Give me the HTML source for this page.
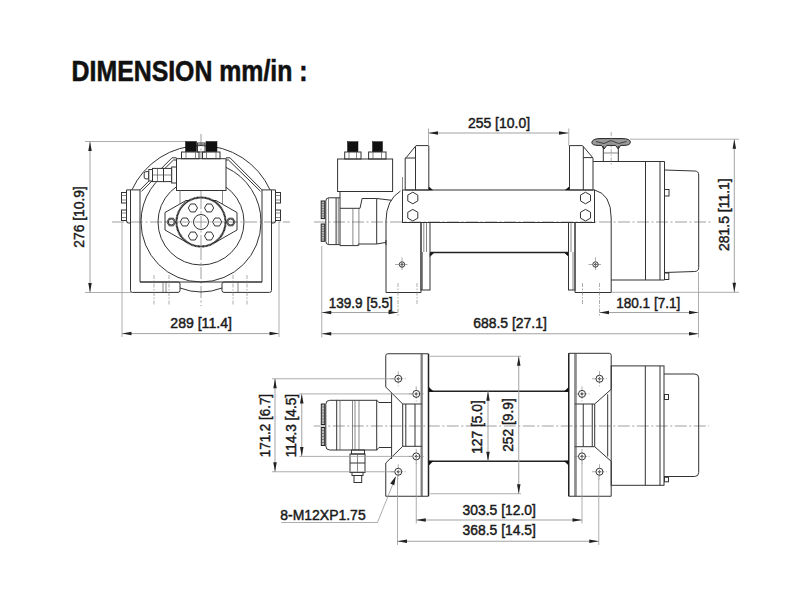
<!DOCTYPE html>
<html><head><meta charset="utf-8"><title>Dimension drawing</title><style>
*{margin:0;padding:0}
html,body{width:800px;height:600px;background:#fff;overflow:hidden}
svg{display:block}
.o{fill:none;stroke:#333;stroke-width:1}
.thk{fill:none;stroke:#222;stroke-width:1.5}
.t{fill:none;stroke:#555;stroke-width:0.7}
.mf{fill:none;stroke:#222;stroke-width:2.2;stroke-dasharray:0.9 0.45}
.mfw{fill:#fff;stroke:#555;stroke-width:1}
.ser{fill:#bbb;stroke:#222;stroke-width:1}
.ow{fill:#fff;stroke:#333;stroke-width:1}
.blk{fill:#111;stroke:#111;stroke-width:0.5}
.kn{fill:#9a9a9a;stroke:#222;stroke-width:1}
.knl{fill:none;stroke:#333;stroke-width:0.9}
.c{fill:none;stroke:#777;stroke-width:0.7;stroke-dasharray:12 2.5 2 2.5}
.c2{fill:none;stroke:#777;stroke-width:0.6;stroke-dasharray:4 1.5 1.5 1.5}
.d{fill:none;stroke:#999;stroke-width:0.9}
.e{fill:none;stroke:#999;stroke-width:0.8}
.ar{fill:#222;stroke:none}
text.t{font-family:"Liberation Sans",sans-serif;fill:#1a1a1a;stroke:#1a1a1a;stroke-width:0.45}
text.ttl{font-family:"Liberation Sans",sans-serif;font-weight:bold;font-size:30.4px;fill:#111;stroke:#111;stroke-width:0.6}
</style></head>
<body><svg width="800" height="600" viewBox="0 0 800 600">
<rect width="800" height="600" fill="#fff"/>
<line x1="112" y1="222" x2="290" y2="222" class="c"/>
<line x1="201" y1="134" x2="201" y2="306" class="c"/>
<path d="M131.9,189.9 A76,76 0 0 1 270.1,189.9" class="o" />
<path d="M141,222 A60,60 0 1 0 261,222" class="o" />
<path d="M141,222 A60,60 0 0 1 176.5,167.2" class="o" />
<path d="M261,222 A60,60 0 0 0 226,167.4" class="o" />
<circle cx="201" cy="222" r="43" class="o"/>
<path d="M130.5,189.9 L130.5,290.4 Q130.5,292.4 132.5,292.4 L178,292.4 Q180,292.4 180,290.4 L180,284 Q180,282 178,282 L140,282 L140,189.9" class="o" />
<path d="M271.5,189.9 L271.5,290.4 Q271.5,292.4 269.5,292.4 L224,292.4 Q222,292.4 222,290.4 L222,284 Q222,282 224,282 L262,282 L262,189.9" class="o" />
<line x1="140" y1="282" x2="262" y2="282" class="o"/>
<path d="M180,288 Q201,296 222,288" class="o" />
<path d="M140,189.9 L126.5,189.9 L126.5,221 Q126.5,223 128.5,223 L130.5,223" class="o" />
<path d="M262,189.9 L275.5,189.9 L275.5,221 Q275.5,223 273.5,223 L271.5,223" class="o" />
<rect x="121.5" y="192.5" width="5" height="10.5" class="o"/>
<line x1="121.5" y1="195.5" x2="126.5" y2="195.5" class="t"/>
<line x1="121.5" y1="200.0" x2="126.5" y2="200.0" class="t"/>
<rect x="121.5" y="210" width="5" height="10.5" class="o"/>
<line x1="121.5" y1="213" x2="126.5" y2="213" class="t"/>
<line x1="121.5" y1="217.5" x2="126.5" y2="217.5" class="t"/>
<rect x="275.5" y="192.5" width="5" height="10.5" class="o"/>
<line x1="275.5" y1="195.5" x2="280.5" y2="195.5" class="t"/>
<line x1="275.5" y1="200.0" x2="280.5" y2="200.0" class="t"/>
<rect x="275.5" y="210" width="5" height="10.5" class="o"/>
<line x1="275.5" y1="213" x2="280.5" y2="213" class="t"/>
<line x1="275.5" y1="217.5" x2="280.5" y2="217.5" class="t"/>
<polyline points="140,189.9 172,157.8 176.5,157.8" class="o"/>
<polyline points="141.5,191.3 173.5,160 176.5,160" class="o"/>
<polyline points="262,189.9 230,157.8 226,157.8" class="o"/>
<polyline points="260.5,191.3 228.5,160 226,160" class="o"/>
<line x1="163" y1="282" x2="163" y2="292.4" class="t"/>
<line x1="166" y1="282" x2="166" y2="292.4" class="t"/>
<line x1="238" y1="282" x2="238" y2="292.4" class="t"/>
<line x1="154" y1="275" x2="154" y2="306" class="c2"/>
<line x1="169" y1="275" x2="169" y2="306" class="c2"/>
<line x1="233" y1="275" x2="233" y2="306" class="c2"/>
<line x1="247" y1="275" x2="247" y2="306" class="c2"/>
<rect x="176.5" y="158.7" width="49.5" height="31.8" class="ow"/>
<line x1="180" y1="190.5" x2="180" y2="204" class="t"/>
<line x1="222.5" y1="190.5" x2="222.5" y2="204" class="t"/>
<rect x="181.5" y="152" width="17.5" height="6.7" class="o"/>
<rect x="202.5" y="152" width="17.5" height="6.7" class="o"/>
<rect x="185.5" y="141.5" width="11" height="10" class="blk"/>
<rect x="206" y="141.5" width="11" height="10" class="blk"/>
<rect x="197.5" y="143" width="7.5" height="9" class="o"/>
<line x1="197.5" y1="144.5" x2="205" y2="144.5" class="t"/>
<line x1="186" y1="152" x2="186" y2="158.7" class="t"/>
<line x1="195.5" y1="152" x2="195.5" y2="158.7" class="t"/>
<line x1="206.5" y1="152" x2="206.5" y2="158.7" class="t"/>
<line x1="216" y1="152" x2="216" y2="158.7" class="t"/>
<path d="M148.8,171.6 L146,171.6 Q144.2,171.6 144.2,173.4 L144.2,177.1 Q144.2,178.9 146,178.9 L148.8,178.9 Z" class="ow" />
<rect x="148.8" y="169.5" width="3.7" height="11.5" class="ow"/>
<rect x="152.5" y="168.4" width="11" height="13.2" class="ow"/>
<line x1="152.5" y1="175" x2="163.5" y2="175" class="t"/>
<line x1="157.5" y1="168.4" x2="157.5" y2="181.6" class="t"/>
<rect x="163.5" y="168.4" width="8.2" height="13.2" class="ow"/>
<line x1="163.5" y1="175" x2="171.7" y2="175" class="t"/>
<rect x="171.7" y="167" width="4.8" height="16" class="ow"/>
<polygon points="165,212.5 186,200.5 216,200.5 237,212.5 237,230 216,242 186,242 165,230" class="o"/>
<circle cx="201" cy="222" r="24.5" class="mfw"/>
<circle cx="201" cy="222" r="24.5" class="mf"/>
<circle cx="201" cy="222" r="7.5" class="o"/>
<polygon points="221.8,222.0 219.5,225.98 214.9,225.98 212.6,222.0 214.9,218.02 219.5,218.02" class="o"/>
<polygon points="213.7,236.03 211.4,240.01 206.8,240.01 204.5,236.03 206.8,232.05 211.4,232.05" class="o"/>
<polygon points="197.5,236.03 195.2,240.01 190.6,240.01 188.3,236.03 190.6,232.05 195.2,232.05" class="o"/>
<polygon points="189.4,222.0 187.1,225.98 182.5,225.98 180.2,222.0 182.5,218.02 187.1,218.02" class="o"/>
<polygon points="197.5,207.97 195.2,211.95 190.6,211.95 188.3,207.97 190.6,203.99 195.2,203.99" class="o"/>
<polygon points="213.7,207.97 211.4,211.95 206.8,211.95 204.5,207.97 206.8,203.99 211.4,203.99" class="o"/>
<polygon points="175.7,222.0 173.5,225.81 169.1,225.81 166.9,222.0 169.1,218.19 173.5,218.19" class="o"/>
<circle cx="171.3" cy="222" r="3.0" class="o"/>
<polygon points="235.1,222.0 232.9,225.81 228.5,225.81 226.3,222.0 228.5,218.19 232.9,218.19" class="o"/>
<circle cx="230.7" cy="222" r="3.0" class="o"/>
<line x1="176" y1="222" x2="226" y2="222" class="c"/>
<line x1="201" y1="197" x2="201" y2="247" class="c"/>
<line x1="90" y1="141.5" x2="90" y2="292.5" class="d"/>
<polygon points="90,141.5 88.25,151.0 91.75,151.0" class="ar"/>
<polygon points="90,292.5 88.25,283.0 91.75,283.0" class="ar"/>
<line x1="85" y1="141.5" x2="185" y2="141.5" class="e"/>
<line x1="85" y1="292.5" x2="131" y2="292.5" class="e"/>
<text x="0" y="0" transform="translate(84.3,216.9) rotate(-90)" text-anchor="middle" class="t" style="font-size:14px" textLength="61.6" lengthAdjust="spacingAndGlyphs">276 [10.9]</text>
<line x1="122" y1="333.6" x2="279" y2="333.6" class="d"/>
<polygon points="122,333.6 131.5,331.85 131.5,335.35" class="ar"/>
<polygon points="279,333.6 269.5,331.85 269.5,335.35" class="ar"/>
<line x1="122" y1="222" x2="122" y2="337" class="e"/>
<line x1="279" y1="222" x2="279" y2="337" class="e"/>
<text x="201.1" y="328" text-anchor="middle" class="t" style="font-size:14px" textLength="61.6" lengthAdjust="spacingAndGlyphs">289 [11.4]</text>
<line x1="314" y1="222" x2="712" y2="222" class="c"/>
<rect x="337.6" y="159" width="55" height="32.5" class="o"/>
<rect x="344.7" y="152" width="16.3" height="7" class="o"/>
<rect x="368.6" y="152" width="17.4" height="7" class="o"/>
<line x1="349" y1="152" x2="349" y2="159" class="t"/>
<line x1="356.5" y1="152" x2="356.5" y2="159" class="t"/>
<line x1="373" y1="152" x2="373" y2="159" class="t"/>
<line x1="381.5" y1="152" x2="381.5" y2="159" class="t"/>
<rect x="347.5" y="141.7" width="10.5" height="10" class="blk"/>
<rect x="372.5" y="141.7" width="10" height="10" class="blk"/>
<path d="M340,197.8 L329,197.8 Q325.8,197.8 325.8,201 L325.8,241.4 Q325.8,244.6 329,244.6 L340,244.6" class="o" />
<rect x="321.2" y="201" width="3.5" height="17.6" class="ser"/>
<rect x="321.2" y="224" width="3.5" height="17.3" class="ser"/>
<line x1="321.2" y1="203.5" x2="324.7" y2="203.5" class="t"/>
<line x1="321.2" y1="206" x2="324.7" y2="206" class="t"/>
<line x1="321.2" y1="208.5" x2="324.7" y2="208.5" class="t"/>
<line x1="321.2" y1="211" x2="324.7" y2="211" class="t"/>
<line x1="321.2" y1="213.5" x2="324.7" y2="213.5" class="t"/>
<line x1="321.2" y1="216" x2="324.7" y2="216" class="t"/>
<line x1="321.2" y1="226.5" x2="324.7" y2="226.5" class="t"/>
<line x1="321.2" y1="229" x2="324.7" y2="229" class="t"/>
<line x1="321.2" y1="231.5" x2="324.7" y2="231.5" class="t"/>
<line x1="321.2" y1="234" x2="324.7" y2="234" class="t"/>
<line x1="321.2" y1="236.5" x2="324.7" y2="236.5" class="t"/>
<line x1="321.2" y1="239" x2="324.7" y2="239" class="t"/>
<line x1="328.5" y1="197.8" x2="328.5" y2="244.6" class="t"/>
<line x1="336.1" y1="197.8" x2="336.1" y2="244.6" class="o"/>
<line x1="338.3" y1="197.8" x2="338.3" y2="244.6" class="t"/>
<path d="M340,191.5 L340,245.6 L358.3,245.6 L358.3,244 L376.7,244 L386,242.4" class="o" />
<path d="M340,208.3 L360,208.3 L362.1,198.5 L376.7,198.5 L391.8,200.3" class="o" />
<path d="M400.5,191 Q386,200 386,221 L386,245" class="o" />
<line x1="352.9" y1="208.3" x2="352.9" y2="245.6" class="t"/>
<line x1="358.9" y1="208.3" x2="358.9" y2="245.6" class="t"/>
<line x1="376.7" y1="198.5" x2="376.7" y2="244" class="o"/>
<polygon points="416,145.6 428.8,145.6 428.8,190 405.2,190 405.2,158 406.2,157.6" class="o"/>
<line x1="415.5" y1="146.5" x2="415.5" y2="190" class="o"/>
<line x1="406" y1="158" x2="415.5" y2="158" class="o"/>
<line x1="402.5" y1="177" x2="402.5" y2="190" class="t"/>
<polygon points="569.5,145.6 582.5,145.6 593,158 593,190 569.5,190" class="o"/>
<line x1="583.3" y1="146.5" x2="583.3" y2="190" class="o"/>
<line x1="583.3" y1="157.6" x2="592.5" y2="157.6" class="o"/>
<rect x="402.5" y="190" width="192" height="32.5" class="o"/>
<polygon points="417.82,200.9 412.8,203.8 407.78,200.9 407.78,195.1 412.8,192.2 417.82,195.1" class="o"/>
<polygon points="417.82,218.1 412.8,221.0 407.78,218.1 407.78,212.3 412.8,209.4 417.82,212.3" class="o"/>
<polygon points="590.52,200.9 585.5,203.8 580.48,200.9 580.48,195.1 585.5,192.2 590.52,195.1" class="o"/>
<polygon points="590.52,218.1 585.5,221.0 580.48,218.1 580.48,212.3 585.5,209.4 590.52,212.3" class="o"/>
<polygon points="429,187 429,190 432.5,190" class="blk"/>
<polygon points="569,187 569,190 565.5,190" class="blk"/>
<polygon points="430,253 430,256.5 433.5,253" class="blk"/>
<polygon points="568.5,253 568.5,256.5 565,253" class="blk"/>
<line x1="430" y1="252.5" x2="568.5" y2="252.5" class="thk"/>
<rect x="421" y="222.5" width="9" height="67.5" class="o"/>
<line x1="423.8" y1="222.5" x2="423.8" y2="252" class="t"/>
<line x1="426.5" y1="222.5" x2="426.5" y2="252" class="t"/>
<rect x="568.5" y="222.5" width="6.5" height="67.5" class="o"/>
<line x1="571" y1="222.5" x2="571" y2="252" class="t"/>
<line x1="422.5" y1="252" x2="422.5" y2="290" class="t"/>
<line x1="573" y1="252" x2="573" y2="290" class="t"/>
<path d="M402.5,222.5 L421,222.5 L421,292.5 L386,292.5 L386,240" class="o" />
<path d="M594.2,222.5 L575,222.5 L575,292.5 L611.2,292.5" class="o" />
<line x1="395" y1="264.5" x2="409" y2="264.5" class="c2"/>
<line x1="402" y1="257.5" x2="402" y2="271.5" class="c2"/>
<circle cx="402" cy="264.5" r="2.7" class="o"/>
<circle cx="402" cy="264.5" r="0.8" class="o"/>
<line x1="588.5" y1="264.5" x2="602.5" y2="264.5" class="c2"/>
<line x1="595.5" y1="257.5" x2="595.5" y2="271.5" class="c2"/>
<circle cx="595.5" cy="264.5" r="2.7" class="o"/>
<circle cx="595.5" cy="264.5" r="0.8" class="o"/>
<line x1="398" y1="283" x2="398" y2="316" class="c2"/>
<line x1="599.5" y1="283" x2="599.5" y2="316" class="c2"/>
<line x1="417" y1="283" x2="417" y2="305" class="c2"/>
<line x1="582.5" y1="283" x2="582.5" y2="305" class="c2"/>
<path d="M593,161.5 L664.5,161.5 L664.5,280 L611.2,280" class="o" />
<path d="M594.5,190 Q611.2,194 611.2,218 L611.2,292.5" class="o" />
<line x1="645.5" y1="161.5" x2="645.5" y2="280" class="o"/>
<line x1="660" y1="161.5" x2="660" y2="280" class="o"/>
<path d="M591.8,142.5 Q592.5,138.6 600,138.6 L622,138.6 Q630.3,138.6 630.4,142.2 Q630.3,145.3 624,145.4 L620.5,145.4 L618.3,149 L615.5,145.4 L606.8,145.4 L604,149 L601.6,145.4 L598,145.4 Q591.9,145.3 591.8,142.5 Z" class="kn" />
<path d="M596,141.5 L604,143.5 L611,140.5 L618.5,143.5 L626.5,141.5" class="knl" />
<line x1="603.3" y1="146" x2="603.3" y2="161.5" class="o"/>
<line x1="618.3" y1="146" x2="618.3" y2="161.5" class="o"/>
<line x1="603.3" y1="153" x2="618.3" y2="153" class="t"/>
<line x1="611.2" y1="132" x2="611.2" y2="166" class="c2"/>
<path d="M664.5,170 L694.5,171 Q698.7,171 698.7,175 L698.7,267.5 Q698.7,271.5 694.5,271.5 L664.5,272.5" class="o" />
<rect x="664.5" y="189.5" width="4.5" height="6.5" class="o"/>
<rect x="664.5" y="273" width="4.3" height="6.5" class="o"/>
<line x1="428.5" y1="133" x2="568.5" y2="133" class="d"/>
<polygon points="428.5,133 438.0,131.25 438.0,134.75" class="ar"/>
<polygon points="568.5,133 559.0,131.25 559.0,134.75" class="ar"/>
<line x1="428.5" y1="128.5" x2="428.5" y2="146" class="e"/>
<line x1="568.75" y1="128.5" x2="568.75" y2="146" class="e"/>
<text x="499" y="127.5" text-anchor="middle" class="t" style="font-size:14px" textLength="62.1" lengthAdjust="spacingAndGlyphs">255 [10.0]</text>
<line x1="734.3" y1="139.2" x2="734.3" y2="292.3" class="d"/>
<polygon points="734.3,139.2 732.55,148.7 736.05,148.7" class="ar"/>
<polygon points="734.3,292.3 732.55,282.8 736.05,282.8" class="ar"/>
<line x1="630" y1="139.2" x2="739" y2="139.2" class="e"/>
<line x1="611" y1="292.3" x2="739" y2="292.3" class="e"/>
<text x="0" y="0" transform="translate(729,214.6) rotate(-90)" text-anchor="middle" class="t" style="font-size:14px" textLength="72.6" lengthAdjust="spacingAndGlyphs">281.5 [11.1]</text>
<line x1="321.75" y1="312.5" x2="398" y2="312.5" class="d"/>
<polygon points="321.75,312.5 331.25,310.75 331.25,314.25" class="ar"/>
<polygon points="398,312.5 388.5,310.75 388.5,314.25" class="ar"/>
<text x="360.75" y="307.5" text-anchor="middle" class="t" style="font-size:14px" textLength="64.1" lengthAdjust="spacingAndGlyphs">139.9 [5.5]</text>
<line x1="599.5" y1="312.5" x2="698.5" y2="312.5" class="d"/>
<polygon points="599.5,312.5 609.0,310.75 609.0,314.25" class="ar"/>
<polygon points="698.5,312.5 689.0,310.75 689.0,314.25" class="ar"/>
<text x="648.25" y="307.5" text-anchor="middle" class="t" style="font-size:14px" textLength="64.1" lengthAdjust="spacingAndGlyphs">180.1 [7.1]</text>
<line x1="321.75" y1="333.75" x2="698.5" y2="333.75" class="d"/>
<polygon points="321.75,333.75 331.25,332.0 331.25,335.5" class="ar"/>
<polygon points="698.5,333.75 689.0,332.0 689.0,335.5" class="ar"/>
<line x1="321.75" y1="246" x2="321.75" y2="337.5" class="e"/>
<line x1="698.5" y1="272" x2="698.5" y2="337.5" class="e"/>
<text x="510" y="328.1" text-anchor="middle" class="t" style="font-size:14px" textLength="73.6" lengthAdjust="spacingAndGlyphs">688.5 [27.1]</text>
<line x1="313.75" y1="426" x2="709" y2="426" class="c"/>
<path d="M428.3,353.75 L387.75,353.75 Q385.75,353.75 385.75,355.75 L385.75,387 L402.7,404 L402.7,446.3 L385.75,463 L385.75,496.25 L428.3,496.25" class="o" />
<line x1="422" y1="353.75" x2="422" y2="496.25" class="o"/>
<line x1="402.7" y1="404" x2="422" y2="404" class="o"/>
<line x1="402.7" y1="446.3" x2="422" y2="446.3" class="o"/>
<line x1="405.8" y1="404" x2="405.8" y2="446.3" class="o"/>
<line x1="415" y1="404" x2="415" y2="446.3" class="o"/>
<line x1="421" y1="353.75" x2="421" y2="496.25" class="t"/>
<line x1="391.6" y1="392.8" x2="391.6" y2="459" class="o"/>
<path d="M568.75,353.3 L609.2,353.3 Q611.2,353.3 611.2,355.3 L611.2,389.3 L594.7,404 L594.7,446.7 L611.2,461.3 L611.2,496.25 L568.75,496.25" class="o" />
<line x1="575" y1="353.3" x2="575" y2="496.25" class="o"/>
<line x1="575" y1="404" x2="594.7" y2="404" class="o"/>
<line x1="575" y1="446.7" x2="594.7" y2="446.7" class="o"/>
<line x1="583.25" y1="404" x2="583.25" y2="446.7" class="o"/>
<line x1="592.25" y1="404" x2="592.25" y2="446.7" class="o"/>
<line x1="607.7" y1="394.3" x2="607.7" y2="456.5" class="o"/>
<line x1="576.3" y1="353.3" x2="576.3" y2="496.25" class="t"/>
<line x1="428.5" y1="353.75" x2="428.5" y2="496.25" class="thk"/>
<line x1="568.75" y1="353.3" x2="568.75" y2="496.25" class="thk"/>
<line x1="428.75" y1="391.25" x2="568.75" y2="391.25" class="thk"/>
<line x1="428.75" y1="461.25" x2="568.75" y2="461.25" class="thk"/>
<polygon points="429,387.5 429,391.3 433,391.3" class="blk"/>
<polygon points="568.5,387.5 568.5,391.3 564.5,391.3" class="blk"/>
<polygon points="429,461.2 429,465 433,461.2" class="blk"/>
<polygon points="568.5,461.2 568.5,465 564.5,461.2" class="blk"/>
<line x1="390.75" y1="378.75" x2="405.75" y2="378.75" class="c2"/>
<line x1="398.25" y1="371.25" x2="398.25" y2="386.25" class="c2"/>
<circle cx="398.25" cy="378.75" r="3.5" class="o"/>
<circle cx="398.25" cy="378.75" r="0.8" class="o"/>
<line x1="408.75" y1="393.9" x2="423.75" y2="393.9" class="c2"/>
<line x1="416.25" y1="386.4" x2="416.25" y2="401.4" class="c2"/>
<circle cx="416.25" cy="393.9" r="3.5" class="o"/>
<circle cx="416.25" cy="393.9" r="0.8" class="o"/>
<line x1="408.75" y1="456.4" x2="423.75" y2="456.4" class="c2"/>
<line x1="416.25" y1="448.9" x2="416.25" y2="463.9" class="c2"/>
<circle cx="416.25" cy="456.4" r="3.5" class="o"/>
<circle cx="416.25" cy="456.4" r="0.8" class="o"/>
<line x1="390.75" y1="471.75" x2="405.75" y2="471.75" class="c2"/>
<line x1="398.25" y1="464.25" x2="398.25" y2="479.25" class="c2"/>
<circle cx="398.25" cy="471.75" r="3.5" class="o"/>
<circle cx="398.25" cy="471.75" r="0.8" class="o"/>
<line x1="592.0" y1="378.75" x2="607.0" y2="378.75" class="c2"/>
<line x1="599.5" y1="371.25" x2="599.5" y2="386.25" class="c2"/>
<circle cx="599.5" cy="378.75" r="3.5" class="o"/>
<circle cx="599.5" cy="378.75" r="0.8" class="o"/>
<line x1="574.5" y1="393.9" x2="589.5" y2="393.9" class="c2"/>
<line x1="582" y1="386.4" x2="582" y2="401.4" class="c2"/>
<circle cx="582" cy="393.9" r="3.5" class="o"/>
<circle cx="582" cy="393.9" r="0.8" class="o"/>
<line x1="574.5" y1="456.4" x2="589.5" y2="456.4" class="c2"/>
<line x1="582" y1="448.9" x2="582" y2="463.9" class="c2"/>
<circle cx="582" cy="456.4" r="3.5" class="o"/>
<circle cx="582" cy="456.4" r="0.8" class="o"/>
<line x1="592.0" y1="471.75" x2="607.0" y2="471.75" class="c2"/>
<line x1="599.5" y1="464.25" x2="599.5" y2="479.25" class="c2"/>
<circle cx="599.5" cy="471.75" r="3.5" class="o"/>
<circle cx="599.5" cy="471.75" r="0.8" class="o"/>
<path d="M336.7,400.3 L329.8,400.3 Q325.8,400.3 325.8,404.3 L325.8,446 Q325.8,450 329.8,450 L336.7,450" class="o" />
<rect x="336.7" y="400.3" width="40" height="49.7" class="o"/>
<path d="M376.7,400.3 L379,402.5 L391.6,402.5 M376.7,450 L379,447.5 L391.6,447.5" class="o" />
<rect x="321.3" y="404" width="3.4" height="20.5" class="ser"/>
<rect x="321.3" y="427.5" width="3.4" height="18" class="ser"/>
<line x1="321.3" y1="407" x2="324.7" y2="407" class="t"/>
<line x1="321.3" y1="410" x2="324.7" y2="410" class="t"/>
<line x1="321.3" y1="413" x2="324.7" y2="413" class="t"/>
<line x1="321.3" y1="416" x2="324.7" y2="416" class="t"/>
<line x1="321.3" y1="419" x2="324.7" y2="419" class="t"/>
<line x1="321.3" y1="422" x2="324.7" y2="422" class="t"/>
<line x1="321.3" y1="430.5" x2="324.7" y2="430.5" class="t"/>
<line x1="321.3" y1="433.5" x2="324.7" y2="433.5" class="t"/>
<line x1="321.3" y1="436.5" x2="324.7" y2="436.5" class="t"/>
<line x1="321.3" y1="439.5" x2="324.7" y2="439.5" class="t"/>
<line x1="321.3" y1="442.5" x2="324.7" y2="442.5" class="t"/>
<line x1="340" y1="400.3" x2="340" y2="450" class="t"/>
<line x1="352.5" y1="400.3" x2="352.5" y2="450" class="t"/>
<line x1="355" y1="400.3" x2="355" y2="450" class="t"/>
<line x1="359" y1="400.3" x2="359" y2="450" class="t"/>
<rect x="351.5" y="450" width="13" height="4" class="o"/>
<rect x="350" y="454" width="15" height="18.5" class="o"/>
<line x1="350" y1="463" x2="365" y2="463" class="o"/>
<line x1="357.5" y1="454" x2="357.5" y2="472.5" class="t"/>
<rect x="352" y="472.5" width="11" height="3" class="o"/>
<rect x="354" y="475.5" width="7.7" height="7" class="o"/>
<rect x="611.2" y="365.9" width="52.8" height="119.4" class="o"/>
<line x1="645.3" y1="365.9" x2="645.3" y2="485.3" class="o"/>
<line x1="660" y1="365.9" x2="660" y2="485.3" class="o"/>
<path d="M664,374 L694.7,374 Q698.7,374 698.7,378 L698.7,472.5 Q698.7,476.5 694.7,476.5 L664,476.5" class="o" />
<rect x="664.5" y="394.5" width="4" height="5" class="o"/>
<rect x="664.5" y="477.3" width="4" height="4.5" class="o"/>
<line x1="430" y1="356.25" x2="521" y2="356.25" class="e"/>
<line x1="430" y1="493.75" x2="521" y2="493.75" class="e"/>
<line x1="518.75" y1="356.25" x2="518.75" y2="493.75" class="d"/>
<polygon points="518.75,356.25 517.0,365.75 520.5,365.75" class="ar"/>
<polygon points="518.75,493.75 517.0,484.25 520.5,484.25" class="ar"/>
<line x1="488" y1="391.25" x2="488" y2="461.25" class="d"/>
<polygon points="488,391.25 486.25,400.75 489.75,400.75" class="ar"/>
<polygon points="488,461.25 486.25,451.75 489.75,451.75" class="ar"/>
<text x="0" y="0" transform="translate(482.4,427) rotate(-90)" text-anchor="middle" class="t" style="font-size:14px" textLength="53.6" lengthAdjust="spacingAndGlyphs">127 [5.0]</text>
<text x="0" y="0" transform="translate(513.2,425) rotate(-90)" text-anchor="middle" class="t" style="font-size:14px" textLength="53.6" lengthAdjust="spacingAndGlyphs">252 [9.9]</text>
<line x1="272" y1="378.75" x2="395" y2="378.75" class="e"/>
<line x1="272" y1="471.75" x2="395" y2="471.75" class="e"/>
<line x1="299" y1="393.9" x2="413" y2="393.9" class="e"/>
<line x1="299" y1="456.4" x2="413" y2="456.4" class="e"/>
<line x1="275" y1="378.75" x2="275" y2="471.75" class="d"/>
<polygon points="275,378.75 273.25,388.25 276.75,388.25" class="ar"/>
<polygon points="275,471.75 273.25,462.25 276.75,462.25" class="ar"/>
<line x1="301.75" y1="393.9" x2="301.75" y2="456.4" class="d"/>
<polygon points="301.75,393.9 300.0,403.4 303.5,403.4" class="ar"/>
<polygon points="301.75,456.4 300.0,446.9 303.5,446.9" class="ar"/>
<text x="0" y="0" transform="translate(270.4,425.6) rotate(-90)" text-anchor="middle" class="t" style="font-size:14px" textLength="63.3" lengthAdjust="spacingAndGlyphs">171.2 [6.7]</text>
<text x="0" y="0" transform="translate(295.7,425.6) rotate(-90)" text-anchor="middle" class="t" style="font-size:14px" textLength="63.3" lengthAdjust="spacingAndGlyphs">114.3 [4.5]</text>
<line x1="416.25" y1="520" x2="582" y2="520" class="d"/>
<polygon points="416.25,520 425.75,518.25 425.75,521.75" class="ar"/>
<polygon points="582,520 572.5,518.25 572.5,521.75" class="ar"/>
<line x1="416.25" y1="458" x2="416.25" y2="523.5" class="e"/>
<line x1="582" y1="458" x2="582" y2="523.5" class="e"/>
<text x="499.25" y="514.9" text-anchor="middle" class="t" style="font-size:14px" textLength="73.3" lengthAdjust="spacingAndGlyphs">303.5 [12.0]</text>
<line x1="397.5" y1="541.25" x2="598.75" y2="541.25" class="d"/>
<polygon points="397.5,541.25 407.0,539.5 407.0,543.0" class="ar"/>
<polygon points="598.75,541.25 589.25,539.5 589.25,543.0" class="ar"/>
<line x1="397.5" y1="475" x2="397.5" y2="545" class="e"/>
<line x1="598.75" y1="475" x2="598.75" y2="545" class="e"/>
<text x="499.25" y="535.4" text-anchor="middle" class="t" style="font-size:14px" textLength="73.3" lengthAdjust="spacingAndGlyphs">368.5 [14.5]</text>
<polyline points="281.25,522.5 377.5,522.5 395.5,477.5" class="e"/>
<polygon points="395.8,476.2 390.2,483.6 394.3,485.3" class="ar"/>
<text x="280.3" y="520.4" text-anchor="start" class="t" style="font-size:14px" textLength="85.35" lengthAdjust="spacingAndGlyphs">8-M12XP1.75</text>
<text x="71.6" y="80.9" class="ttl" textLength="236" lengthAdjust="spacingAndGlyphs">DIMENSION mm/in :</text>
</svg></body></html>
